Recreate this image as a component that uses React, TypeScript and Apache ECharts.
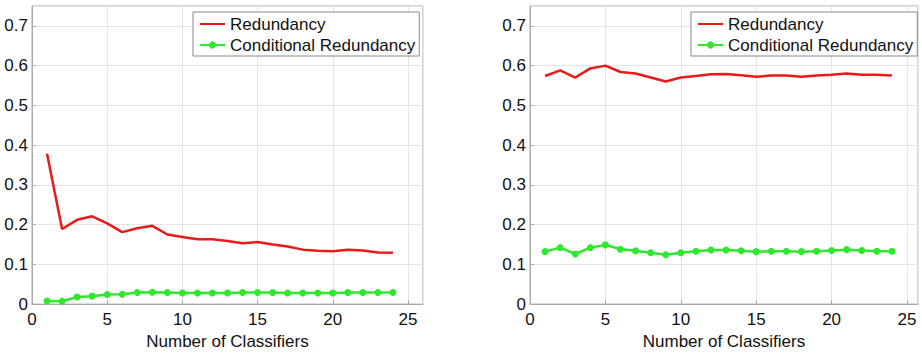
import React, { useEffect, useRef } from "react";
import * as echarts from "echarts";

const classifiers = Array.from({ length: 24 }, (_, i) => i + 1);

const leftRedundancy = [0.378, 0.189, 0.212, 0.221, 0.203, 0.181, 0.191, 0.197, 0.175, 0.169, 0.163, 0.163, 0.159, 0.153, 0.156, 0.150, 0.145, 0.137, 0.134, 0.133, 0.137, 0.135, 0.130, 0.129];
const leftConditional = [0.008, 0.007, 0.018, 0.020, 0.024, 0.025, 0.029, 0.030, 0.029, 0.028, 0.028, 0.028, 0.028, 0.029, 0.029, 0.029, 0.028, 0.028, 0.028, 0.028, 0.029, 0.029, 0.029, 0.029];
const rightRedundancy = [0.574, 0.588, 0.570, 0.593, 0.600, 0.584, 0.580, 0.570, 0.560, 0.570, 0.574, 0.578, 0.579, 0.576, 0.572, 0.575, 0.575, 0.572, 0.575, 0.577, 0.580, 0.577, 0.577, 0.575];
const rightConditional = [0.132, 0.142, 0.126, 0.142, 0.149, 0.138, 0.134, 0.129, 0.124, 0.129, 0.133, 0.136, 0.136, 0.134, 0.132, 0.133, 0.133, 0.132, 0.133, 0.135, 0.137, 0.135, 0.133, 0.133];

const seriesNames = ["Redundancy", "Conditional Redundancy"];
const xAxisTitle = "Number of Classifiers";

const RED = "#e81a1a";
const GREEN = "#2ee82e";
const FONT = "Arial, 'Liberation Sans', sans-serif";

export default function App() {
  const ref = useRef<HTMLDivElement>(null);
  useEffect(() => {
    if (!ref.current) return;
    const chart = echarts.init(ref.current, undefined, { renderer: "svg" });
    const pair = (a: number[]) => classifiers.map((x, i) => [x, a[i]]);
    const xAxis = (gridIndex: number, max: number) => ({
      type: "value",
      gridIndex,
      min: 0,
      max,
      interval: 5,
      name: xAxisTitle,
      nameLocation: "middle",
      nameGap: 20,
      nameTextStyle: { color: "#111", fontSize: 17, fontFamily: FONT },
      axisLine: { show: true, onZero: false, lineStyle: { color: "#aaa", width: 1 } },
      axisTick: { show: true, inside: true, length: 4, lineStyle: { color: "#aaa" } },
      axisLabel: { color: "#111", fontSize: 17, fontFamily: FONT, margin: 7, showMaxLabel: false },
      splitLine: { show: true, lineStyle: { color: "#e4e4e4", width: 1 } },
    });
    const yAxis = (gridIndex: number) => ({
      type: "value",
      gridIndex,
      min: 0,
      max: 0.75,
      interval: 0.1,
      axisLine: { show: true, lineStyle: { color: "#aaa", width: 1 } },
      axisTick: { show: true, inside: true, length: 4, lineStyle: { color: "#aaa" } },
      axisLabel: {
        color: "#111",
        fontSize: 17,
        fontFamily: FONT,
        margin: 4,
        showMaxLabel: false,
        formatter: (v: number) => (Math.abs(v) < 1e-9 ? "0" : v.toFixed(1)),
      },
      splitLine: { show: true, lineStyle: { color: "#e4e4e4", width: 1 } },
    });
    const redSeries = (idx: number, data: number[]) => ({
      name: seriesNames[0],
      type: "line",
      xAxisIndex: idx,
      yAxisIndex: idx,
      data: pair(data),
      symbol: "none",
      lineStyle: { color: RED, width: 2.5 },
      itemStyle: { color: RED },
    });
    const greenSeries = (idx: number, data: number[]) => ({
      name: seriesNames[1],
      type: "line",
      xAxisIndex: idx,
      yAxisIndex: idx,
      data: pair(data),
      symbol: "circle",
      symbolSize: 7,
      showSymbol: true,
      lineStyle: { color: GREEN, width: 2.5 },
      itemStyle: { color: GREEN },
    });
    const legend = (left: number) => ({
      left,
      top: 12,
      orient: "vertical",
      data: [
        { name: seriesNames[0], itemStyle: { opacity: 0 } },
        { name: seriesNames[1] },
      ],
      itemWidth: 25,
      itemHeight: 9,
      itemGap: 3,
      itemTextGap: 3,
      padding: [3, 4, 2, 6],
      borderColor: "#888",
      borderWidth: 1,
      backgroundColor: "#fff",
      selectedMode: false,
      textStyle: { color: "#111", fontSize: 17, fontFamily: FONT, lineHeight: 18 },
    });
    chart.setOption({
      animation: false,
      backgroundColor: "#fff",
      grid: [
        { left: 32, top: 6, width: 391, height: 307, show: true, borderColor: "#aaa", borderWidth: 1 },
        { left: 530, top: 6, width: 388, height: 307, show: true, borderColor: "#aaa", borderWidth: 1 },
      ],
      xAxis: [xAxis(0, 26), xAxis(1, 25.73)],
      yAxis: [yAxis(0), yAxis(1)],
      legend: [legend(193), legend(691)],
      series: [
        redSeries(0, leftRedundancy),
        greenSeries(0, leftConditional),
        redSeries(1, rightRedundancy),
        greenSeries(1, rightConditional),
      ],
    });
    return () => chart.dispose();
  }, []);
  return (
    <div
      ref={ref}
      style={{ position: "absolute", left: 0, top: 0, width: 922, height: 355 }}
    />
  );
}
